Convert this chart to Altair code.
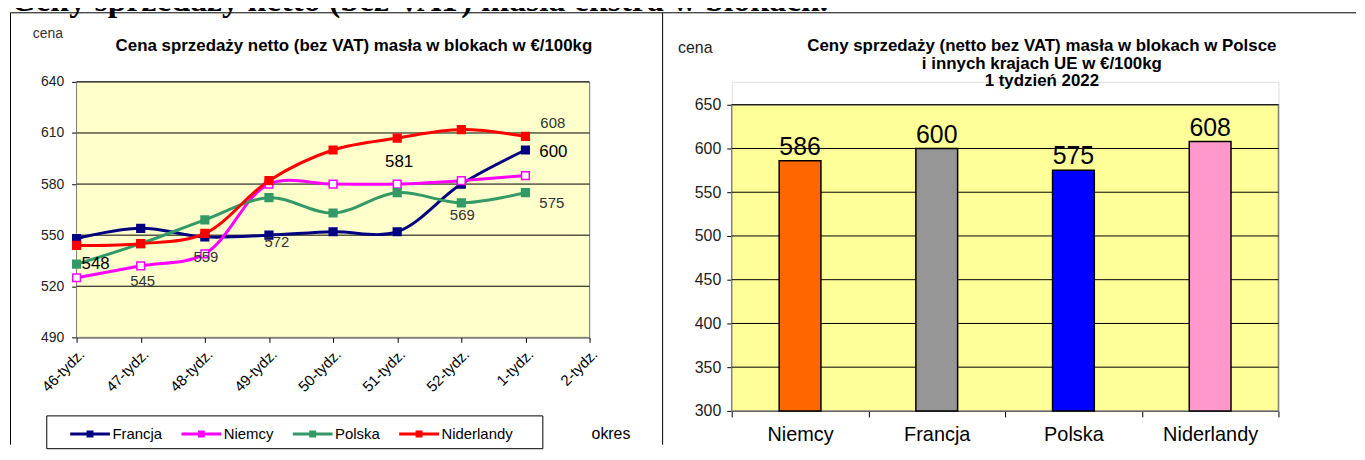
import altair as alt
import pandas as pd

# ---------------- data ----------------
weeks = ["46-tydz.", "47-tydz.", "48-tydz.", "49-tydz.", "50-tydz.",
         "51-tydz.", "52-tydz.", "1-tydz.", "2-tydz."]
series_names = ["Francja", "Niemcy", "Polska", "Niderlandy"]
francja = [548, 554, 549, 550, 552, 552, 580, 600]
niemcy = [525, 532, 539, 580, 580, 580, 582, 585]
polska = [533, 545, 559, 572, 563, 575, 569, 575]
niderlandy = [544, 545, 551, 582, 600, 607, 612, 608]
left_ticks = [490, 520, 550, 580, 610, 640]

ann_weeks = ["46-tydz.", "47-tydz.", "48-tydz.", "49-tydz.", "51-tydz.",
             "52-tydz.", "1-tydz.", "1-tydz.", "1-tydz."]
ann_values = [533, 523, 537, 546, 593, 562, 616, 599, 569]
ann_texts = ["548", "545", "559", "572", "581", "569", "608", "600", "575"]

bar_countries = ["Niemcy", "Francja", "Polska", "Niderlandy"]
bar_values = [586, 600, 575, 608]
right_ticks = [300, 350, 400, 450, 500, 550, 600, 650]

heading = "Ceny sprzedaży netto (bez VAT) masła ekstra w blokach."
left_title = "Cena sprzedaży netto (bez VAT) masła w blokach w €/100kg"
right_title = ["Ceny sprzedaży (netto bez VAT) masła  w blokach w Polsce",
               "i  innych krajach UE w €/100kg",
               "1  tydzień 2022"]

# ---------------- styles ----------------
line_colors = ["#000080", "#FF00FF", "#339966", "#FF0000"]
marker_fills = ["#000080", "#FFFFFF", "#339966", "#FF0000"]
bar_colors = ["#FF6600", "#969696", "#0000FF", "#FF99CC"]
ann_sizes = [17, 15, 15, 15, 17, 15, 15, 17, 15]
ann_colors = ["#000000", "#333333", "#333333", "#333333", "#000000",
              "#333333", "#333333", "#000000", "#333333"]
ann_align = ["left", "center", "center", "center", "center", "center", "left", "left", "left"]
ann_dx = [5, 2, 1, 8, 2, 1, 15, 14, 14]
FONT = "Liberation Sans"

LW, LH = 516, 257
RW, RH, RTOP = 550, 331, 23
SPACING = 143

rows = []
for name, vals in zip(series_names, [francja, niemcy, polska, niderlandy]):
    for i, (w, v) in enumerate(zip(weeks, vals)):
        rows.append({"tydzien": w, "kraj": name, "cena": v, "idx": i})
df = pd.DataFrame(rows)
one = pd.DataFrame({"a": [0]})

# ---------------- left chart ----------------
x_left_scale = alt.Scale(type="point", domain=weeks, padding=0)
y_left_scale = alt.Scale(domain=[490, 640], nice=False, zero=False)
x_left_axis = alt.Axis(title=None, labelAngle=315, labelFontSize=15, labelFont=FONT,
                       labelColor="black", tickSize=5, tickColor="black",
                       domainColor="black", labelPadding=4, grid=False)
y_left_axis = alt.Axis(title=None, values=left_ticks, labelFontSize=14, labelFont=FONT,
                       labelColor="#222222", tickSize=5, tickColor="black",
                       domainColor="black", labelPadding=8, grid=False)

legend_path = "M-1,0H1M-0.1,-0.1H0.1V0.1H-0.1Z"
legend_left = alt.Legend(orient="none", legendX=-8, legendY=332.5, direction="horizontal",
                         columns=4, title=None, symbolType=legend_path, symbolSize=1600,
                         symbolStrokeWidth=3, labelFont=FONT, labelFontSize=15,
                         labelColor="black", labelOffset=1, columnPadding=12, padding=0,
                         symbolOpacity=1)

stroke_enc = alt.Stroke("kraj:N", scale=alt.Scale(domain=series_names, range=line_colors),
                        legend=legend_left)

bg_left = alt.Chart(one).mark_rect(fill="#FFFFCC", stroke="#808080", strokeWidth=1).encode(
    x=alt.value(0), x2=alt.value(LW),
    y=alt.Y(datum=640, scale=y_left_scale, axis=y_left_axis), y2=alt.Y2(datum=490))

grid_left = alt.Chart(pd.DataFrame({"v": left_ticks[1:]})).mark_rule(
    color="black", strokeWidth=1).encode(
    y=alt.Y("v:Q", scale=y_left_scale, axis=y_left_axis), x=alt.value(0), x2=alt.value(LW))

lines = alt.Chart(df).mark_line(interpolate="catmull-rom", strokeWidth=3).encode(
    x=alt.X("tydzien:N", scale=x_left_scale, axis=x_left_axis),
    y=alt.Y("cena:Q", scale=y_left_scale, axis=y_left_axis),
    stroke=stroke_enc,
    order=alt.Order("idx:Q"))

points = alt.Chart(df).mark_point(shape="square", size=60, filled=True, strokeWidth=1.5,
                                  opacity=1, fillOpacity=1).encode(
    x=alt.X("tydzien:N", scale=x_left_scale, axis=x_left_axis),
    y=alt.Y("cena:Q", scale=y_left_scale, axis=y_left_axis),
    stroke=stroke_enc,
    fill=alt.Fill("kraj:N", scale=alt.Scale(domain=series_names, range=marker_fills),
                  legend=legend_left))

ann_layers = []
for w, v, t, s, c, a, d in zip(ann_weeks, ann_values, ann_texts, ann_sizes, ann_colors,
                               ann_align, ann_dx):
    ann_layers.append(
        alt.Chart(pd.DataFrame({"tydzien": [w], "cena": [v], "t": [t]})).mark_text(
            font=FONT, fontSize=s, color=c, align=a, baseline="middle", dx=d).encode(
            x=alt.X("tydzien:N", scale=x_left_scale, axis=x_left_axis),
            y=alt.Y("cena:Q", scale=y_left_scale, axis=y_left_axis),
            text="t:N"))

# decorations (page-frame, heading, titles) placed relative to the left plot
deco = [
    alt.Chart(one).mark_rule(opacity=0).encode(x=alt.value(0), x2=alt.value(10), y=alt.value(-130)),
    alt.Chart(one).mark_text(font="Liberation Serif", fontWeight="bold", fontSize=34,
                             align="left", baseline="alphabetic", color="black").encode(
        x=alt.value(-66), y=alt.value(-71.5), text=alt.value(heading)),
    alt.Chart(one).mark_rule(color="black", strokeWidth=1).encode(
        x=alt.value(-66.5), x2=alt.value(1287), y=alt.value(-69.5)),
    alt.Chart(one).mark_rule(color="black", strokeWidth=1).encode(
        x=alt.value(-66.5), y=alt.value(-69.5), y2=alt.value(365)),
    alt.Chart(one).mark_rule(color="black", strokeWidth=1).encode(
        x=alt.value(589.5), y=alt.value(-69.5), y2=alt.value(365)),
    alt.Chart(one).mark_text(font=FONT, fontSize=14, align="left", baseline="middle",
                             color="#333333").encode(
        x=alt.value(-44), y=alt.value(-48), text=alt.value("cena")),
    alt.Chart(one).mark_text(font=FONT, fontSize=17, fontWeight="bold", align="center",
                             baseline="middle", color="black").encode(
        x=alt.value(279), y=alt.value(-36), text=alt.value(left_title)),
    alt.Chart(one).mark_rect(fill="white", stroke="black", strokeWidth=1).encode(
        x=alt.value(-30), x2=alt.value(469), y=alt.value(336), y2=alt.value(369)),
    alt.Chart(one).mark_text(font=FONT, fontSize=16, align="left", baseline="middle",
                             color="black").encode(
        x=alt.value(518), y=alt.value(354), text=alt.value("okres")),
]

left = alt.layer(bg_left, grid_left, *deco, lines, points, *ann_layers).properties(
    width=LW, height=LH)

# ---------------- right chart ----------------
bar_df = pd.DataFrame({"kraj": bar_countries, "cena": bar_values})
x_right_scale = alt.Scale(domain=bar_countries, paddingInner=0, paddingOuter=0)
y_right_scale = alt.Scale(domain=[300, 650], range=[RH, RTOP], nice=False, zero=False)
x_right_axis = alt.Axis(title=None, labelAngle=0, labelFontSize=20, labelFont=FONT,
                        labelColor="black", tickBand="extent", tickSize=6,
                        tickColor="black", domainColor="black", labelPadding=8)
y_right_axis = alt.Axis(title=None, values=right_ticks, labelFontSize=16, labelFont=FONT,
                        labelColor="#222222", tickSize=5, tickColor="black",
                        domainColor="black", labelPadding=6, grid=False)

bg_right = alt.Chart(one).mark_rect(fill="#FFFF99", stroke="#808080", strokeWidth=1.5).encode(
    x=alt.value(0), x2=alt.value(RW),
    y=alt.Y(datum=650, scale=y_right_scale, axis=y_right_axis), y2=alt.Y2(datum=300))

grid_right = alt.Chart(pd.DataFrame({"v": right_ticks[1:]})).mark_rule(
    color="black", strokeWidth=1).encode(
    y=alt.Y("v:Q", scale=y_right_scale, axis=y_right_axis), x=alt.value(0), x2=alt.value(RW))

bars = alt.Chart(bar_df).mark_bar(size=42, stroke="black", strokeWidth=1.5).encode(
    x=alt.X("kraj:N", scale=x_right_scale, axis=x_right_axis),
    y=alt.Y("cena:Q", scale=y_right_scale, axis=y_right_axis),
    y2=alt.Y2(datum=300),
    fill=alt.Fill("kraj:N", scale=alt.Scale(domain=bar_countries, range=bar_colors), legend=None))

bar_labels = alt.Chart(bar_df).mark_text(font=FONT, fontSize=25, baseline="bottom", dy=-1,
                                         color="black").encode(
    x=alt.X("kraj:N", scale=x_right_scale, axis=x_right_axis),
    y=alt.Y("cena:Q", scale=y_right_scale, axis=y_right_axis),
    text="cena:Q")

rdeco = [
    alt.Chart(one).mark_text(font=FONT, fontSize=16, align="left", baseline="middle",
                             color="#222222").encode(
        x=alt.value(-54), y=alt.value(-34), text=alt.value("cena")),
]
for ty, line in zip([-36, -18, -1], right_title):
    rdeco.append(alt.Chart(one).mark_text(font=FONT, fontSize=17, fontWeight="bold",
                                          align="center", baseline="middle",
                                          color="black").encode(
        x=alt.value(312), y=alt.value(ty), text=alt.value(line)))

right = alt.layer(bg_right, grid_right, bars, bar_labels, *rdeco).properties(
    width=RW, height=RH)

chart = alt.hconcat(left, right, spacing=SPACING, bounds="flush").resolve_scale(
    fill="independent", stroke="independent", x="independent", y="independent"
).properties(
    padding={"left": 1, "top": -58, "right": 0, "bottom": 0}
).configure_view(stroke=None, fill=None).configure(background="white")

chart.save("out.html", embed_options={"renderer": "svg", "actions": False})
